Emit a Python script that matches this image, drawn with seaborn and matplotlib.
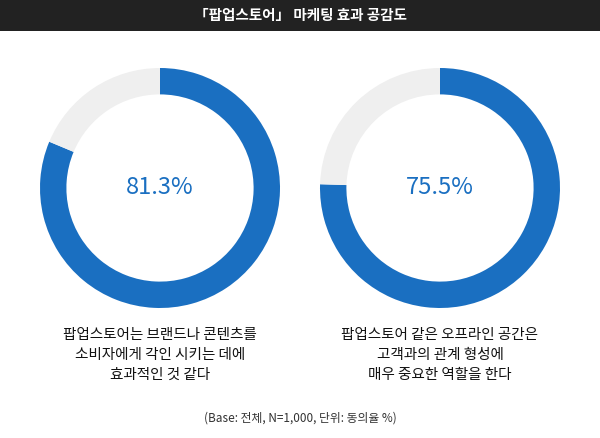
import matplotlib; matplotlib.use('Agg')
import matplotlib.pyplot as plt
import seaborn as sns

sns.set_theme(style='white')
plt.rcParams['font.family'] = ['Noto Sans CJK KR', 'Noto Sans CJK JP', 'Noto Sans CJK SC', 'DejaVu Sans']

title = '「팝업스토어」 마케팅 효과 공감도'
values = [81.3, 75.5]
value_labels = ['81.3%', '75.5%']
captions = ['팝업스토어는 브랜드나 콘텐츠를\n소비자에게 각인 시키는 데에\n효과적인 것 같다',
            '팝업스토어 같은 오프라인 공간은\n고객과의 관계 형성에\n매우 중요한 역할을 한다']
note = '(Base: 전체, N=1,000, 단위: 동의율 %)'

BLUE = '#1a6fc1'; GREY = '#efefef'
fig = plt.figure(figsize=(6, 4.38), dpi=100)
fig.patch.set_facecolor('white')

# title bar
tax = fig.add_axes([0.0, 0.93, 1.0, 0.07])
tax.set_facecolor('#222222'); tax.set_xticks([]); tax.set_yticks([])
for s in tax.spines.values(): s.set_visible(False)
tax.text(0.5, 0.5, title, color='white', ha='center', va='center', fontsize=10.5, fontweight='bold')

centers_x = [160/600, 440/600]
for cx, v, lab, cap in zip(centers_x, values, value_labels, captions):
    w, h = 300/600, 300/438
    ax = fig.add_axes([cx - w/2, 1 - 188/438 - h/2, w, h])
    ax.pie([v, 100 - v], colors=[BLUE, GREY], startangle=90, counterclock=False,
           wedgeprops=dict(width=0.22, edgecolor='none'))
    ax.set_aspect('equal')
    ax.text(0, 0, lab, ha='center', va='center', fontsize=17, color=BLUE)
    fig.text(cx, 1 - 355/438, cap, ha='center', va='center', fontsize=10.5, color='#111111',
             linespacing=1.5)

fig.text(0.5, 1 - 418/438, note, ha='center', va='center', fontsize=8.5, color='#333333')
fig.savefig('out.png', dpi=100)
